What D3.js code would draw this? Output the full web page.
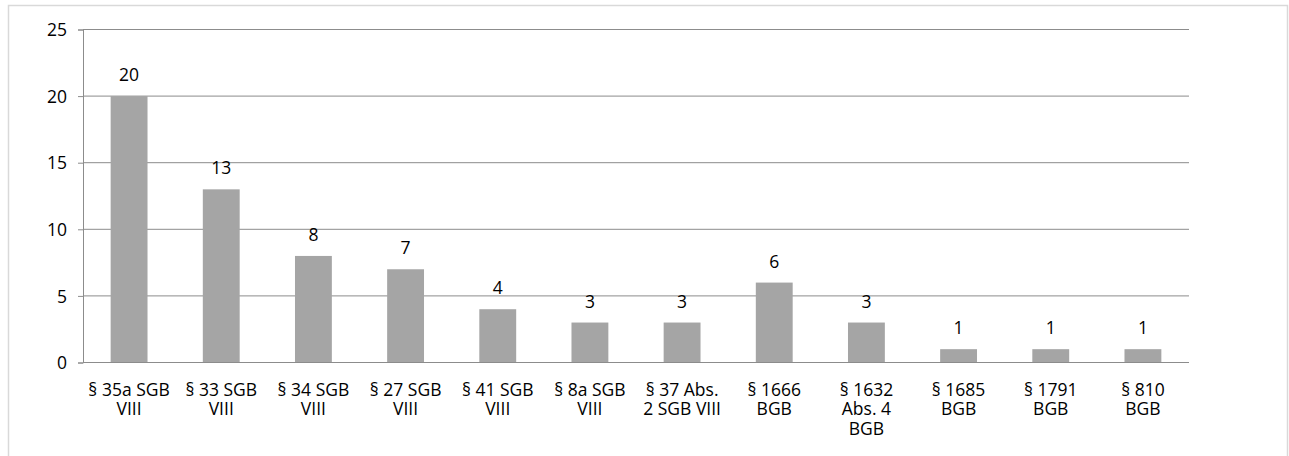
<!DOCTYPE html>
<html>
<head>
<meta charset="utf-8">
<script src="https://cdn.jsdelivr.net/npm/d3@7"></script>
<style>
  html, body { margin: 0; padding: 0; background: #fff; }
  svg { display: block; }
  text { font-family: "Open Sans", "Noto Sans", sans-serif; fill: #000; }
</style>
</head>
<body>
<svg id="chart" width="1289" height="456"></svg>
<script>
// Paragraphs (line breaks as shown under each bar) and case counts
const categories = [
  "§ 35a SGB\nVIII",
  "§ 33 SGB\nVIII",
  "§ 34 SGB\nVIII",
  "§ 27 SGB\nVIII",
  "§ 41 SGB\nVIII",
  "§ 8a SGB\nVIII",
  "§ 37 Abs.\n2 SGB VIII",
  "§ 1666\nBGB",
  "§ 1632\nAbs. 4\nBGB",
  "§ 1685\nBGB",
  "§ 1791\nBGB",
  "§ 810\nBGB"
];
const counts = [20, 13, 8, 7, 4, 3, 3, 6, 3, 1, 1, 1];
const yTicks = [0, 5, 10, 15, 20, 25];

const svg = d3.select("#chart");
const plot = { left: 83, right: 1189, top: 29.5, bottom: 362.5 };
const FS = 17.5;

// outer frame
svg.append("rect")
  .attr("x", 8.5).attr("y", 5.5)
  .attr("width", 1279).attr("height", 460)
  .attr("fill", "#fff").attr("stroke", "#d9d9d9").attr("stroke-width", 1.5);

const x = d3.scaleBand()
  .domain(categories)
  .range([plot.left, plot.right])
  .paddingInner(0.6)
  .paddingOuter(0.3);

const y = d3.scaleLinear().domain([0, 25]).range([plot.bottom, plot.top]);

// horizontal gridlines
svg.append("g")
  .selectAll("line")
  .data(yTicks.filter(d => d > 0))
  .join("line")
  .attr("x1", plot.left).attr("x2", plot.right)
  .attr("y1", d => y(d)).attr("y2", d => y(d))
  .attr("stroke", "#8c8c8c").attr("stroke-width", 1);

// y axis
const yAxis = svg.append("g")
  .attr("transform", `translate(${plot.left},0)`)
  .call(d3.axisLeft(y).tickValues(yTicks).tickSize(5).tickPadding(11));
yAxis.select(".domain").attr("stroke", "#8c8c8c");
yAxis.selectAll(".tick line").attr("stroke", "#8c8c8c");
yAxis.selectAll("text").attr("font-size", FS).attr("fill", "#000")
  .attr("font-family", "'Open Sans', sans-serif").attr("dy", "0.35em");

// bars
svg.append("g")
  .selectAll("rect")
  .data(counts)
  .join("rect")
  .attr("x", (d, i) => x(categories[i]))
  .attr("width", x.bandwidth())
  .attr("y", d => y(d))
  .attr("height", d => y(0) - y(d))
  .attr("fill", "#a5a5a5");

// value labels
svg.append("g")
  .selectAll("text")
  .data(counts)
  .join("text")
  .attr("x", (d, i) => x(categories[i]) + x.bandwidth() / 2)
  .attr("y", d => y(d) - 15)
  .attr("text-anchor", "middle")
  .attr("font-size", FS)
  .text(d => d);

// x axis line
svg.append("line")
  .attr("x1", plot.left).attr("x2", plot.right)
  .attr("y1", y(0)).attr("y2", y(0))
  .attr("stroke", "#8c8c8c").attr("stroke-width", 1);

// category labels
const xl = svg.append("g")
  .selectAll("text")
  .data(categories)
  .join("text")
  .attr("x", d => x(d) + x.bandwidth() / 2)
  .attr("y", 395.5)
  .attr("text-anchor", "middle")
  .attr("font-size", FS);
xl.selectAll("tspan")
  .data(d => d.split("\n").map(s => ({ s, cx: x(d) + x.bandwidth() / 2 })))
  .join("tspan")
  .attr("x", d => d.cx)
  .attr("dy", (d, i) => i === 0 ? 0 : 19.6)
  .text(d => d.s);
</script>
</body>
</html>
